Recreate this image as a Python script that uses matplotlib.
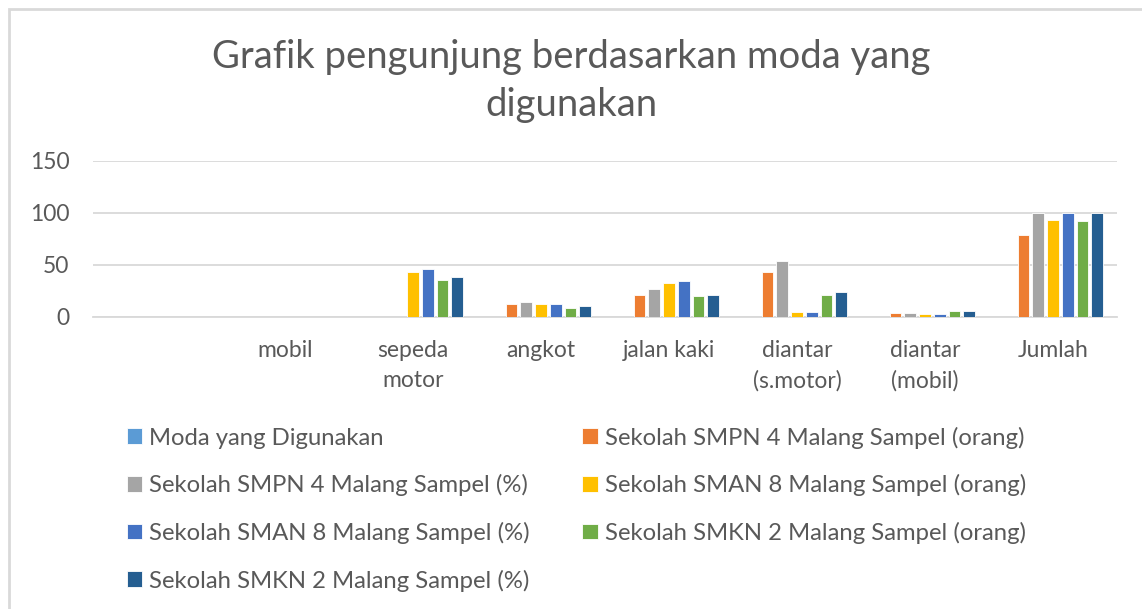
import numpy as np
import matplotlib
matplotlib.use('Agg')
import matplotlib.pyplot as plt

plt.rcParams['font.family'] = ['Lato', 'DejaVu Sans']

# Data
categories = ['', 'mobil', 'sepeda\nmotor', 'angkot', 'jalan kaki',
              'diantar\n(s.motor)', 'diantar\n(mobil)', 'Jumlah']

moda = [0, 0, 0, 0, 0, 0, 0, 0]
smpn_orang = [0, 0, 0, 12, 21, 43, 3, 78]
smpn_pct = [0, 0, 0, 14, 26, 53, 3, 100]
sman_orang = [0, 0, 43, 12, 32, 4, 2, 93]
sman_pct = [0, 0, 46, 12, 34, 4, 2, 100]
smkn_orang = [0, 0, 35, 8, 20, 21, 5, 92]
smkn_pct = [0, 0, 38, 10, 21, 24, 5, 100]

series_names = [
    'Moda yang Digunakan',
    'Sekolah SMPN 4 Malang Sampel (orang)',
    'Sekolah SMPN 4 Malang Sampel (%)',
    'Sekolah SMAN 8 Malang Sampel (orang)',
    'Sekolah SMAN 8 Malang Sampel (%)',
    'Sekolah SMKN 2 Malang Sampel (orang)',
    'Sekolah SMKN 2 Malang Sampel (%)',
]
series_values = [moda, smpn_orang, smpn_pct, sman_orang, sman_pct, smkn_orang, smkn_pct]
colors = ['#5B9BD5', '#ED7D31', '#A5A5A5', '#FFC000', '#4472C4', '#70AD47', '#255E91']

text_color = '#595959'
grid_color = '#D9D9D9'

fig = plt.figure(figsize=(11.42, 6.09), dpi=100)

# chart border like the Excel chart area
fig.add_artist(plt.Rectangle((9 / 1142, -0.01), 1.1, 1 - 9 / 609 + 0.01,
                             transform=fig.transFigure, fill=False,
                             edgecolor=grid_color, linewidth=2))

ax = fig.add_axes([93 / 1142, 1 - 316.5 / 609, 1024 / 1142, 155.8 / 609])

x = np.arange(len(categories))
pitch = 0.115
width = 0.092
handles = []
for i, (name, vals, col) in enumerate(zip(series_names, series_values, colors)):
    b = ax.bar(x + (i - 3) * pitch, vals, width, color=col, label=name,
               edgecolor='white', linewidth=0.6, zorder=3)
    handles.append(b)

ax.set_xlim(-0.5, len(categories) - 0.5)
ax.set_ylim(0, 150)
ax.set_yticks([0, 50, 100, 150])
ax.yaxis.grid(True, color=grid_color, linewidth=1.3, zorder=0)
for s in ['top', 'right', 'left']:
    ax.spines[s].set_visible(False)
ax.spines['bottom'].set_color(grid_color)
ax.spines['bottom'].set_linewidth(1.3)
ax.set_xticks(x)
ax.set_xticklabels(categories, linespacing=1.5)
ax.tick_params(axis='both', length=0, colors=text_color, labelsize=16.5)
ax.tick_params(axis='y', pad=17)
ax.tick_params(axis='x', pad=17)

fig.suptitle('Grafik pengunjung berdasarkan moda yang\ndigunakan',
             y=1 - 39 / 609, fontsize=27.5, color=text_color,
             linespacing=1.4, va='top')

# legend laid out in two columns, row-wise like Excel
order = [0, 2, 4, 6, 1, 3, 5]
leg = fig.legend([handles[k] for k in order], [series_names[k] for k in order],
                 ncol=2, loc='upper left', bbox_to_anchor=(105 / 1142, 1 - 405 / 609),
                 frameon=False, fontsize=17.2, handlelength=0.65, handleheight=0.65,
                 handletextpad=0.3, labelspacing=1.07, columnspacing=2.2,
                 labelcolor=text_color)

fig.savefig('out.png', dpi=100)
